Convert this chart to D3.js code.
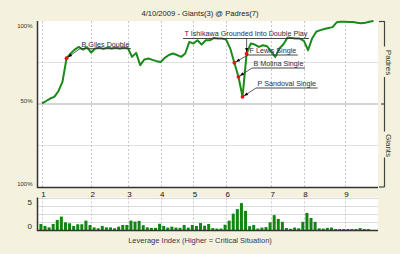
<!DOCTYPE html>
<html><head><meta charset="utf-8">
<script src="https://cdn.jsdelivr.net/npm/d3@7"></script>
<style>
html,body{margin:0;padding:0;background:#F4F2DE;}
svg{display:block;font-family:"Liberation Sans",Arial,sans-serif;}
</style></head><body>
<svg id="c" width="400" height="254"></svg>
<script>
// ---------- data ----------
const title = "4/10/2009 - Giants(3) @ Padres(7)";
const inningLabels = ["1","2","3","4","5","6","7","8","9"];
const inningStart = [0,12,21,29,37,45,56,64,74];        // play index where each inning starts
const winProb = [50.4,51.8,53.3,54.3,57.7,63.3,77.6,80.5,82.8,84.4,
  82.8,84.2,81.0,83.4,84.0,83.2,84.0,83.4,84.0,83.4,
  84.0,83.6,78.4,80.8,73.4,76.8,77.4,76.6,75.8,75.3,
  77.8,79.5,80.4,79.5,78.4,80.4,87.4,86.4,88.4,85.8,
  88.4,88.4,89.8,89.5,89.5,88.8,83.4,74.9,66.4,54.3,
  80.3,86.4,85.8,84.4,85.4,84.8,81.5,78.4,83.4,86.0,
  90.0,89.8,89.5,89.4,88.0,82.4,89.5,93.5,94.5,95.2,
  95.8,96.3,99.2,99.5,99.5,99.4,99.4,99.0,98.6,99.0,
  99.5,100];                                            // Padres win probability (%)
const leverage = [1.25,0.85,0.55,1.25,2.1,2.8,1.6,1.4,0.85,1.2,
  1.2,1.95,1.05,0.55,0.35,0.85,0.55,0.55,0.35,0.7,
  1.05,1.05,1.95,1.75,1.9,1.0,0.55,0.45,0.45,1.3,
  0.85,0.5,0.7,0.5,0.45,1.05,0.5,1.05,0.85,1.45,
  0.9,1.25,0.4,0.3,0.3,1.1,1.95,3.4,4.35,5.6,
  4.0,0.8,1.05,0.3,0.5,0.6,1.6,3.1,2.3,1.7,
  0.4,0.25,0.5,0.35,1.7,3.55,2.5,1.7,0.35,0.3,
  0.45,0.5,0.2,0.2,0.2,0.2,0.2,0.2,0.4,0.2,0.2];
const wpTickValues = [100,50,0];
const wpTickLabels = ["100%","50%","100%"];
const wpGridValues = [75,50,25];
const levTickValues = [5,0];
const levGridValues = [1.67,3.33,5,6.67];
const teamLabels = ["Padres","Giants"];
const eventPlays = [6,50,47,48,49];
const eventLabels = ["B Giles Double","T Ishikawa Grounded Into Double Play","F Lewis Single","B Molina Single","P Sandoval Single"];
const levTitle = "Leverage Index (Higher = Critical Situation)";

// ---------- layout ----------
const svg = d3.select("#c");
const P = {l:37, r:378, t:21, b:187};
const L = {t:197.5, b:230.5};
const N = winProb.length - 1;
const x = d3.scaleLinear().domain([0, N]).range([42, 373.5]);
const y = d3.scaleLinear().domain([0, 100]).range([P.b, P.t]);
const yl = d3.scaleLinear().domain([0, 5]).range([230, 206]);

// title
svg.append("text").attr("x", 200).attr("y", 15.5).attr("text-anchor","middle")
  .attr("font-size", 7.6).attr("fill", "#222").text(title);

// main plot background
svg.append("rect").attr("x",P.l).attr("y",P.t).attr("width",P.r-P.l).attr("height",P.b-P.t).attr("fill","#fff");
// horizontal grid
svg.selectAll(".hg").data(wpGridValues).enter().append("line")
  .attr("x1",P.l).attr("x2",P.r).attr("y1",d=>y(d)).attr("y2",d=>y(d))
  .attr("stroke", d=> d===50 ? "#d4d4d4" : "#e0e0e0").attr("stroke-width", d=> d===50 ? 2 : 1);
// vertical inning grid
svg.selectAll(".vg").data(inningStart).enter().append("line")
  .attr("x1",d=>Math.round(x(d))+0.5).attr("x2",d=>Math.round(x(d))+0.5).attr("y1",P.t).attr("y2",P.b)
  .attr("stroke","#c8c8c8").attr("stroke-dasharray","2,2");
// frame
svg.append("line").attr("x1",P.l+0.5).attr("x2",P.l+0.5).attr("y1",P.t).attr("y2",P.b+1).attr("stroke","#333").attr("stroke-width",1.5);
svg.append("line").attr("x1",P.l).attr("x2",P.r).attr("y1",P.b+0.5).attr("y2",P.b+0.5).attr("stroke","#333").attr("stroke-width",1.5);

// y labels
svg.selectAll(".yl").data(wpTickValues).enter().append("text")
  .attr("x", 32.5).attr("y", (d,i)=> i===0 ? y(d)+6.5 : y(d)-1.5)
  .attr("text-anchor","end").attr("font-size",6).attr("fill","#333")
  .text((d,i)=>wpTickLabels[i]);

// win probability line
svg.append("path").datum(winProb)
  .attr("d", d3.line().x((d,i)=>x(i)).y(d=>y(d)))
  .attr("fill","none").attr("stroke","#1a8a1a").attr("stroke-width",2).attr("stroke-linejoin","round");

// annotations
const labelPos = [ // text start x, baseline y (layout only)
  {tx:81.5, by:46.5},
  {tx:184.5, by:36.3},
  {tx:249.5, by:52.8},
  {tx:253.5, by:65.8},
  {tx:257.5, by:85.8}
];
const ann = svg.append("g");
eventPlays.forEach((p,k)=>{
  const px = x(p), py = y(winProb[p]);
  const lp = labelPos[k];
  const t = ann.append("text").attr("x",lp.tx).attr("y",lp.by).attr("font-size",7.2).attr("fill","#2e2a4a").text(eventLabels[k]);
  const w = t.node().getComputedTextLength();
  const uy = lp.by + 2.2, ux0 = lp.tx - 1.5, ux1 = lp.tx + w + 1.5;
  ann.append("line").attr("x1",ux0).attr("x2",ux1).attr("y1",uy).attr("y2",uy).attr("stroke","#333").attr("stroke-width",0.9);
  const sx = (px >= ux0 && px <= ux1) ? px : ux0;
  ann.append("line").attr("x1",sx).attr("y1",uy).attr("x2",px).attr("y2",py).attr("stroke","#333").attr("stroke-width",0.8);
  // arrowhead near point
  const ang = Math.atan2(py-uy, px-sx);
  const tipx = px - Math.cos(ang)*1.8, tipy = py - Math.sin(ang)*1.8;
  const bx = tipx - Math.cos(ang)*4, by = tipy - Math.sin(ang)*4;
  const nx = -Math.sin(ang)*1.5, ny = Math.cos(ang)*1.5;
  ann.append("path").attr("d",`M${tipx},${tipy}L${bx+nx},${by+ny}L${bx-nx},${by-ny}Z`).attr("fill","#000");
  ann.append("circle").attr("cx",px).attr("cy",py).attr("r",1.9).attr("fill","#f01010");
});

// right bracket
const br = svg.append("g").attr("stroke","#444").attr("stroke-width",1.2);
const bxp = 384.5;
[[P.t, 46.5],[77,y(50)],[y(50),131.5],[157.5,P.b]].forEach(s=>{
  br.append("line").attr("x1",bxp).attr("x2",bxp).attr("y1",s[0]).attr("y2",s[1]);
});
br.append("line").attr("x1",379).attr("x2",bxp).attr("y1",P.t+0.5).attr("y2",P.t+0.5);
br.append("line").attr("x1",381).attr("x2",bxp).attr("y1",y(50)).attr("y2",y(50));
br.append("line").attr("x1",379).attr("x2",bxp).attr("y1",P.b).attr("y2",P.b);
[[y(100)+y(50)]/2, (y(50)+y(0))/2].forEach((cy,i)=>{
  svg.append("text").attr("transform",`translate(${bxp-0.5},${cy}) rotate(90)`)
    .attr("text-anchor","middle").attr("dy","-0.3em").attr("font-size",8).attr("fill","#333").text(teamLabels[i]);
});

// inning labels
svg.selectAll(".il").data(inningStart).enter().append("text")
  .attr("x",d=>x(d)+1.5).attr("y",197).attr("text-anchor","middle")
  .attr("font-size",8).attr("fill","#111").text((d,i)=>inningLabels[i]);

// leverage panel
svg.append("rect").attr("x",P.l).attr("y",L.t).attr("width",P.r-P.l).attr("height",L.b-L.t).attr("fill","#fff");
svg.selectAll(".lg").data(levGridValues).enter().append("line")
  .attr("x1",P.l).attr("x2",P.r).attr("y1",d=>Math.round(yl(d))+0.5).attr("y2",d=>Math.round(yl(d))+0.5)
  .attr("stroke","#dcdcdc");
svg.selectAll(".lv").data(inningStart).enter().append("line")
  .attr("x1",d=>Math.round(x(d))+0.5).attr("x2",d=>Math.round(x(d))+0.5).attr("y1",L.t).attr("y2",L.b)
  .attr("stroke","#c8c8c8").attr("stroke-dasharray","2,2");
svg.selectAll(".bar").data(leverage).enter().append("rect")
  .attr("x",(d,i)=>x(i)-2.6).attr("width",3)
  .attr("y",d=>yl(d)).attr("height",d=>yl(0)-yl(d))
  .attr("fill","#138513");
svg.append("line").attr("x1",P.l+0.5).attr("x2",P.l+0.5).attr("y1",L.t).attr("y2",L.b+0.5).attr("stroke","#333").attr("stroke-width",1.5);
svg.append("line").attr("x1",P.l).attr("x2",P.r).attr("y1",L.b).attr("y2",L.b).attr("stroke","#333").attr("stroke-width",1.5);
svg.selectAll(".ltk").data(levTickValues).enter().append("text")
  .attr("x",32).attr("y",d=>yl(d)-1.5).attr("text-anchor","end").attr("font-size",8).attr("fill","#222").text(d=>d);
svg.append("text").attr("x",200).attr("y",243).attr("text-anchor","middle")
  .attr("font-size",7.5).attr("fill","#3b2f5a").text(levTitle);
</script>
</body></html>
